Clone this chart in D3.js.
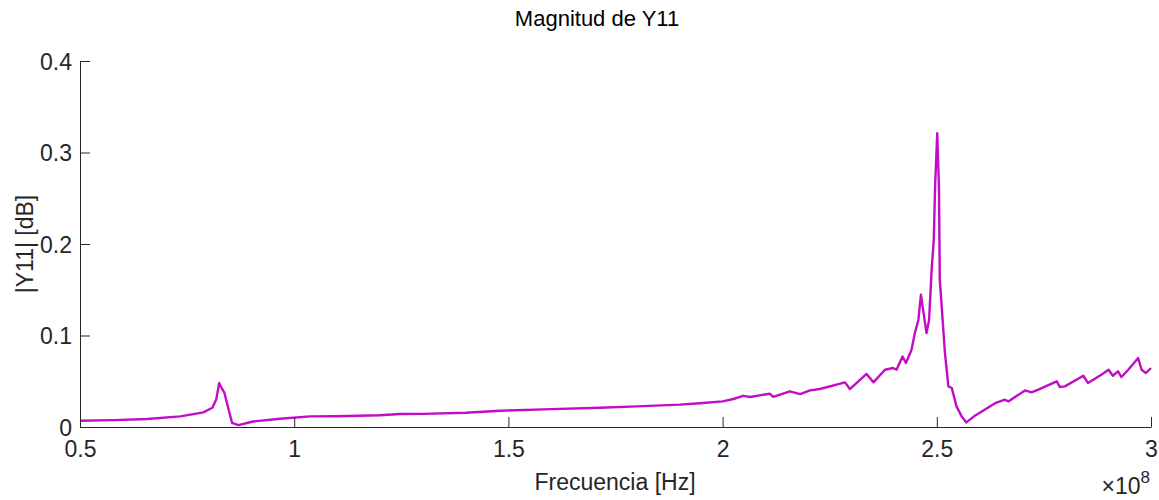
<!DOCTYPE html>
<html>
<head>
<meta charset="utf-8">
<script src="https://cdn.jsdelivr.net/npm/d3@7"></script>
<style>
  html, body { margin: 0; padding: 0; background: #fff; }
  svg { display: block; font-family: "Liberation Sans", Arial, Helvetica, sans-serif; }
</style>
</head>
<body>
<svg id="chart" width="1159" height="500"></svg>
<script>
// Frequency in units of 1e8 Hz
const freq = [0.500, 0.580, 0.657, 0.734, 0.788, 0.809, 0.818, 0.825, 0.829, 0.837, 0.855, 0.870, 0.904, 0.967, 1.037,
  1.100, 1.200, 1.247, 1.300, 1.400, 1.481, 1.600, 1.714, 1.800, 1.900, 1.947, 2.000, 2.025, 2.048, 2.064,
  2.110, 2.118, 2.157, 2.181, 2.204, 2.227, 2.286, 2.297, 2.336, 2.352, 2.379, 2.398, 2.406, 2.420, 2.428,
  2.441, 2.449, 2.457, 2.463, 2.468, 2.476, 2.482, 2.488, 2.493, 2.496, 2.501, 2.505, 2.507, 2.519, 2.527,
  2.535, 2.546, 2.558, 2.569, 2.589, 2.636, 2.659, 2.667, 2.706, 2.721, 2.737, 2.780, 2.787, 2.799, 2.842,
  2.853, 2.884, 2.901, 2.911, 2.923, 2.931, 2.947, 2.970, 2.978, 2.988, 3.000];
const mag = [0.0069, 0.0075, 0.0087, 0.0116, 0.0160, 0.0210, 0.0300, 0.0480, 0.0440, 0.0375, 0.0044, 0.0020, 0.0060, 0.0090, 0.0116,
  0.0118, 0.0128, 0.0142, 0.0143, 0.0155, 0.0178, 0.0195, 0.0210, 0.0225, 0.0245, 0.0260, 0.0280, 0.0306, 0.0340, 0.0328,
  0.0364, 0.0330, 0.0390, 0.0360, 0.0400, 0.0415, 0.0488, 0.0415, 0.0580, 0.0488, 0.0626, 0.0645, 0.0626, 0.0770, 0.0700,
  0.0845, 0.1030, 0.1170, 0.1446, 0.1280, 0.1027, 0.1170, 0.1720, 0.2050, 0.2630, 0.3210, 0.2630, 0.1610, 0.0810, 0.0444,
  0.0426, 0.0225, 0.0116, 0.0050, 0.0124, 0.0260, 0.0298, 0.0280, 0.0400, 0.0378, 0.0408, 0.0499, 0.0437, 0.0444, 0.0560,
  0.0480, 0.0572, 0.0626, 0.0560, 0.0608, 0.0546, 0.0626, 0.0754, 0.0626, 0.0590, 0.0645];
const xTicks = [0.5, 1, 1.5, 2, 2.5, 3];
const yTicks = [0, 0.1, 0.2, 0.3, 0.4];
const title = "Magnitud de Y11";
const xLabel = "Frecuencia [Hz]";
const yLabel = "|Y11| [dB]";

const svg = d3.select("#chart");
const m = { left: 80, right: 1151, top: 61, bottom: 427 };
const x = d3.scaleLinear().domain([0.5, 3]).range([m.left, m.right]);
const y = d3.scaleLinear().domain([0, 0.4]).range([m.bottom, m.top]);
const axisColor = "#262626";

// Line
const line = d3.line().x((d, i) => x(freq[i])).y((d, i) => y(mag[i]));
svg.append("path")
  .datum(mag)
  .attr("d", line)
  .attr("fill", "none")
  .attr("stroke", "#c20cc8")
  .attr("stroke-width", 2.4)
  .attr("stroke-linejoin", "round");

// Axes
const xAxis = d3.axisBottom(x).tickValues(xTicks).tickSizeInner(-10).tickSizeOuter(0)
  .tickPadding(14).tickFormat(d => d3.format("")(d));
const gx = svg.append("g").attr("transform", `translate(0,${m.bottom})`).call(xAxis);
const yAxis = d3.axisLeft(y).tickValues(yTicks).tickSizeInner(-10).tickSizeOuter(0)
  .tickPadding(8).tickFormat(d => d3.format("")(d));
const gy = svg.append("g").attr("transform", `translate(${m.left},0)`).call(yAxis);

[gx, gy].forEach(g => {
  g.select(".domain").attr("stroke", axisColor).attr("stroke-width", 1);
  g.selectAll(".tick line").attr("stroke", axisColor).attr("stroke-width", 1);
  g.selectAll(".tick text").attr("fill", axisColor).style("font-size", "23px");
});
gx.selectAll(".tick text").attr("dy", "0.71em");
gy.selectAll(".tick text").attr("dy", "0.35em");

// Title
svg.append("text").attr("x", 597).attr("y", 26).attr("text-anchor", "middle")
  .attr("fill", "#000").style("font-size", "22px").text(title);

// X label
svg.append("text").attr("x", 615).attr("y", 490).attr("text-anchor", "middle")
  .attr("fill", axisColor).style("font-size", "23px").text(xLabel);

// Y label
svg.append("text").attr("transform", `translate(33,244) rotate(-90)`).attr("text-anchor", "middle")
  .attr("fill", axisColor).style("font-size", "23px").text(yLabel);

// Exponent
const ex = svg.append("text").attr("x", 1150).attr("y", 494).attr("text-anchor", "end")
  .attr("fill", axisColor).style("font-size", "23px");
ex.append("tspan").text("\u00d710");
ex.append("tspan").attr("dy", -11).style("font-size", "17px").text("8");
</script>
</body>
</html>
